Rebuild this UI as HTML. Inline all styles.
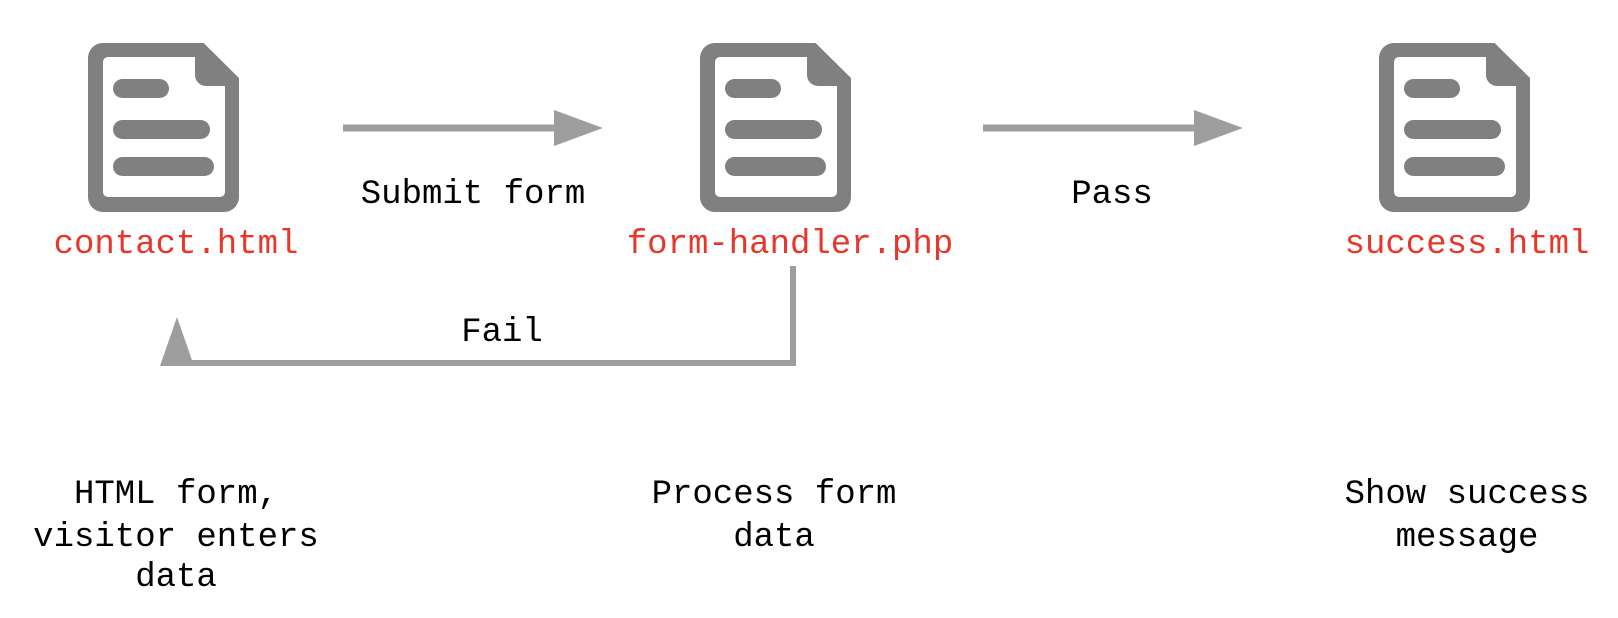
<!DOCTYPE html>
<html><head><meta charset="utf-8"><style>
html,body{margin:0;padding:0;background:#fff}
svg{display:block}
text{font-family:"Liberation Mono",monospace;font-size:34px}
</style></head><body>
<svg width="1618" height="618" viewBox="0 0 1618 618" xmlns="http://www.w3.org/2000/svg">
<defs>
<g id="doc">
<path d="M15,0 H115.6 L151,35 V154 a15,15 0 0 1 -15,15 H15 a15,15 0 0 1 -15,-15 V15 a15,15 0 0 1 15,-15 Z" fill="#808080"/>
<path d="M20,14 H107 V32 a11,11 0 0 0 11,11 H137 V149 a5,5 0 0 1 -5,5 H20 a5,5 0 0 1 -5,-5 V19 a5,5 0 0 1 5,-5Z" fill="#fff"/>
<rect x="25" y="36" width="56" height="19" rx="9.5" fill="#808080"/>
<rect x="25" y="77" width="97" height="19" rx="9.5" fill="#808080"/>
<rect x="25" y="114" width="101" height="19" rx="9.5" fill="#808080"/>
</g>
</defs>
<use href="#doc" x="88" y="43"/>
<use href="#doc" x="700" y="43"/>
<use href="#doc" x="1379" y="43"/>

<g fill="#e8372a" text-anchor="middle">
<text x="176" y="253">contact.html</text>
<text x="790" y="253">form-handler.php</text>
<text x="1467" y="253">success.html</text>
</g>

<!-- arrows -->
<g fill="#9e9e9e">
<rect x="343" y="124.5" width="215" height="7"/>
<polygon points="554,110 603,128 554,146"/>
<rect x="983" y="124.5" width="215" height="7"/>
<polygon points="1194,110 1243,128 1194,146"/>
<rect x="790" y="266" width="6" height="100"/>
<rect x="175" y="360" width="621" height="6"/>
<polygon points="177,317 194,366 160,366"/>
</g>

<g fill="#000" text-anchor="middle">
<text x="473" y="203">Submit form</text>
<text x="1112" y="203">Pass</text>
<text x="502" y="341">Fail</text>
<text x="176" y="503">HTML form,</text>
<text x="176" y="546">visitor enters</text>
<text x="176" y="586">data</text>
<text x="774" y="503">Process form</text>
<text x="774" y="546">data</text>
<text x="1467" y="503">Show success</text>
<text x="1467" y="546">message</text>
</g>
</svg>
</body></html>
